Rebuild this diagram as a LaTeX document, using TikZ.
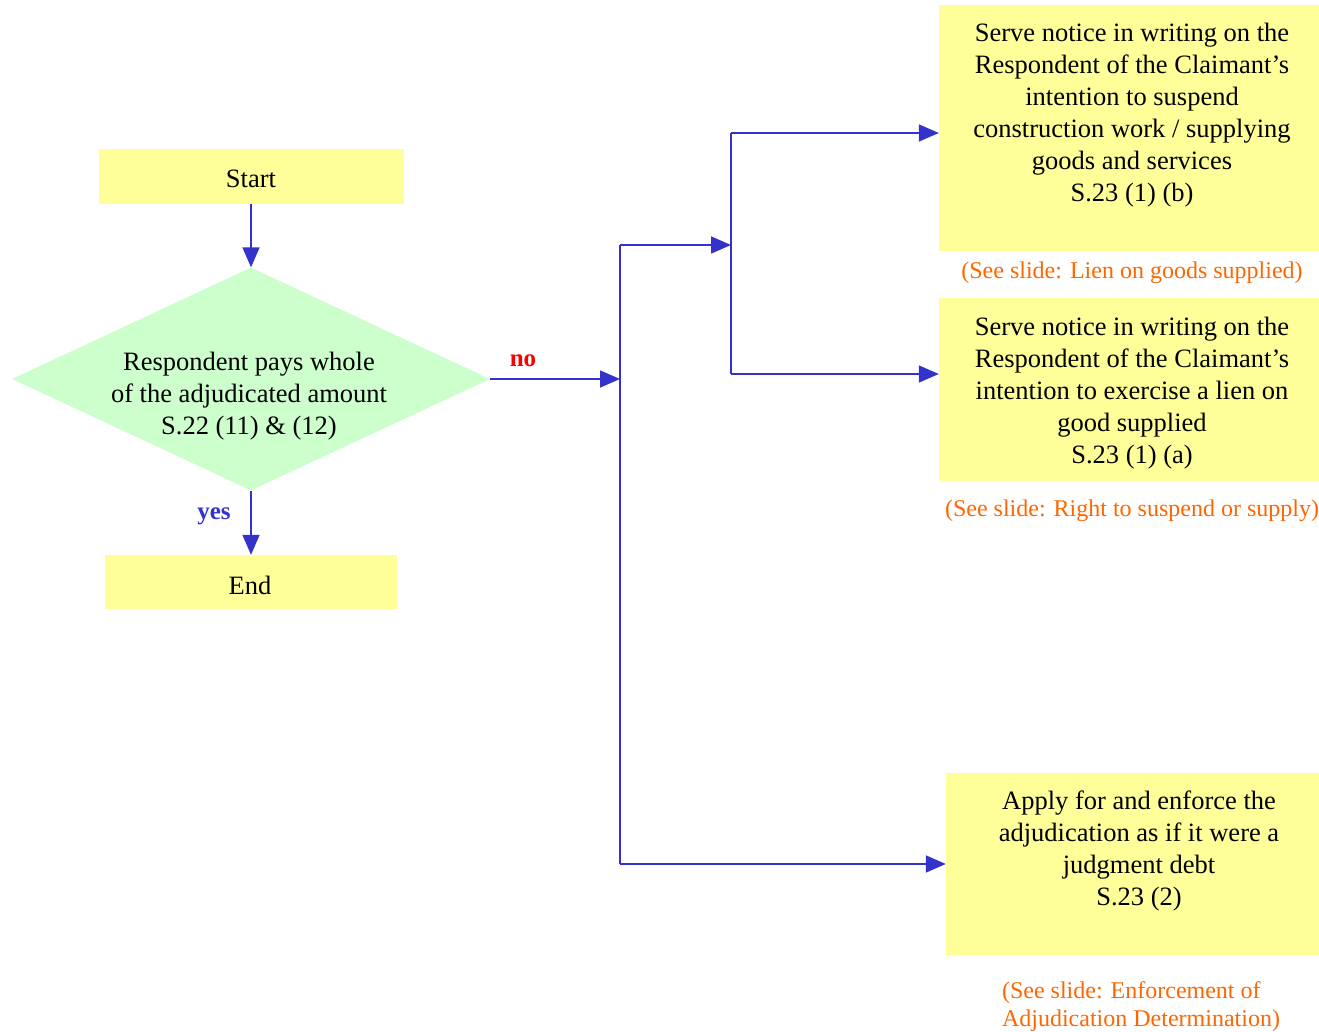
\documentclass[tikz,border=0pt]{standalone}
\usepackage{fontspec}
\setmainfont{Liberation Serif}
\usetikzlibrary{shapes.geometric,arrows.meta}
\definecolor{boxyellow}{HTML}{FFFF99}
\definecolor{decgreen}{HTML}{CCFFCC}
\definecolor{flowblue}{HTML}{3333CC}
\definecolor{noteorange}{HTML}{FF6600}
\tikzset{
  box/.style={fill=boxyellow, draw=none, inner sep=0pt},
  dec/.style={diamond, fill=decgreen, draw=none, inner sep=0pt, aspect=2.14},
  txt/.style={align=center, font=\fontsize{26.5}{32}\selectfont, inner sep=0pt},
  note/.style={align=left, text=noteorange, font=\fontsize{24}{28}\selectfont, inner sep=0pt},
  line/.style={draw=flowblue, line width=1.6pt},
  arr/.style={line, -{Triangle[length=20pt,width=17pt]}},
  lbl/.style={font=\fontsize{25}{28}\selectfont\bfseries, inner sep=0pt}
}
\begin{document}
\begin{tikzpicture}[x=1pt,y=-1pt]
\useasboundingbox (0,0) rectangle (1319,1032);

% left column: start, decision, end
\node[box, minimum width=305pt, minimum height=55pt] (start) at (251,176.5) {};
\node[txt] (starttxt) at (251,179) {Start};
\node[dec, minimum width=478pt, minimum height=223pt] (dec) at (251,379) {};
\node[txt] (dectxt) at (249,396) {Respondent pays whole\\of the adjudicated amount\\S.22 (11) \& (12)};
\node[box, minimum width=292pt, minimum height=54pt] (end) at (251,582) {};
\node[txt] (endtxt) at (250,585) {End};

% right column: actions and notes
\node[box, minimum width=380pt, minimum height=246pt] (b1) at (1129,128) {};
\node[txt] (b1txt) at (1132,115.5) {Serve notice in writing on the\\Respondent of the Claimant’s\\intention to suspend\\construction work / supplying\\goods and services\\S.23 (1) (b)};
\node[note, align=center] (n1) at (1132,273) {(See slide: Lien on goods supplied)};

\node[box, minimum width=380pt, minimum height=183pt] (b2) at (1129,389.5) {};
\node[txt] (b2txt) at (1132,393.5) {Serve notice in writing on the\\Respondent of the Claimant’s\\intention to exercise a lien on\\good supplied\\S.23 (1) (a)};
\node[note, align=center] (n2) at (1132,511) {(See slide: Right to suspend or supply)};

\node[box, minimum width=373pt, minimum height=182pt] (b3) at (1132.5,864) {};
\node[txt] (b3txt) at (1139,851) {Apply for and enforce the\\adjudication as if it were a\\judgment debt\\S.23 (2)};
\node[note] (n3) at (1141,1007) {(See slide: Enforcement of\\Adjudication Determination)};

% connector junctions
\coordinate (j0) at (620,379);
\coordinate (v1) at (620,245);
\coordinate (v2) at (620,864);
\coordinate (h1) at (731,245);
\coordinate (w1) at (731,133);
\coordinate (w2) at (731,374);

% connectors
\draw[arr] (start) -- (dec.north);
\draw[arr] (dec.south) -- (end);
\node[lbl, text=flowblue] (yes) at (214,516) {yes};
\draw[arr] (dec.east) -- (j0);
\node[lbl, text=red] (no) at (523,361) {no};
\draw[line] (v1) -- (v2);
\draw[arr] (v1) -- (h1);
\draw[line] (w1) -- (w2);
\draw[arr] (w1) -- (w1 -| b1.west);
\draw[arr] (w2) -- (w2 -| b2.west);
\draw[arr] (v2) -- (v2 -| b3.west);
\end{tikzpicture}
\end{document}
